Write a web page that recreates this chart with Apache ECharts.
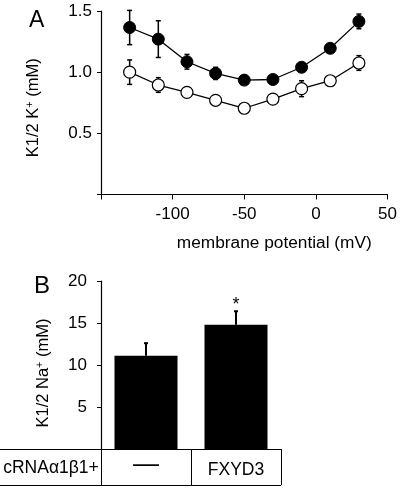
<!DOCTYPE html>
<html><head><meta charset="utf-8">
<script src="https://cdn.jsdelivr.net/npm/echarts@6/dist/echarts.min.js"></script>
<style>html,body{margin:0;padding:0;background:#fff}#c{width:400px;height:489px}</style>
</head><body><div id="c"></div>
<script>
// Panel A data
const voltages = [-130, -110, -90, -70, -50, -30, -10, 10, 30];
const filledMean = [1.365, 1.27, 1.085, 0.99, 0.935, 0.94, 1.04, 1.195, 1.415];
const filledErr  = [0.14, 0.15, 0.06, 0.05, 0.02, 0.02, 0.02, 0.02, 0.06];
const openMean = [1.0, 0.895, 0.835, 0.77, 0.705, 0.78, 0.865, 0.93, 1.075];
const openErr  = [0.10, 0.06, 0.02, 0.02, 0.02, 0.02, 0.065, 0.02, 0.06];
const xTicksA = [-150, -100, -50, 0, 50];
const yTicksA = [0, 0.5, 1.0, 1.5];
// Panel B data
const categoriesB = ['—', 'FXYD3'];
const meansB = [11.1, 14.8];
const errB = [1.5, 1.6];
const sigB = ['', '*'];
const yTicksB = [0, 5, 10, 15, 20];
const rowHeader = 'cRNAα1β1+';

const FONT = 'Liberation Sans';
const chart = echarts.init(document.getElementById('c'), null, {renderer: 'canvas'});

function errRender(params, api) {
  const x = api.value(0), y = api.value(1), e = api.value(2);
  const hi = api.coord([x, y + e]), lo = api.coord([x, y - e]);
  const w = 2.5, st = {stroke: '#000', lineWidth: 1.5};
  return {type: 'group', children: [
    {type: 'line', shape: {x1: hi[0], y1: hi[1], x2: lo[0], y2: lo[1]}, style: st},
    {type: 'line', shape: {x1: hi[0] - w, y1: hi[1], x2: hi[0] + w, y2: hi[1]}, style: st},
    {type: 'line', shape: {x1: lo[0] - w, y1: lo[1], x2: lo[0] + w, y2: lo[1]}, style: st}
  ]};
}
function errRenderB(params, api) {
  const x = api.value(0), y = api.value(1), e = api.value(2);
  const base = api.coord([x, y]), hi = api.coord([x, y + e]);
  const w = 2, st = {stroke: '#000', lineWidth: 2};
  const label = sigB[params.dataIndex];
  const ch = [
    {type: 'line', shape: {x1: base[0], y1: base[1], x2: hi[0], y2: hi[1]}, style: st},
    {type: 'line', shape: {x1: hi[0] - w, y1: hi[1], x2: hi[0] + w, y2: hi[1]}, style: st}
  ];
  if (label) ch.push({type: 'text', x: hi[0], y: hi[1] + 3,
    style: {text: label, fontFamily: FONT, fontSize: 18, fill: '#000', align: 'center', verticalAlign: 'bottom'}});
  return {type: 'group', children: ch};
}

const axisStyle = {lineStyle: {color: '#000', width: 1.2}};
const tickLabel = {color: '#000', fontFamily: FONT, fontSize: 17};
const supRich = {sup: {fontSize: 11, fontFamily: FONT, color: '#000', verticalAlign: 'top', padding: [0, 0, 8, 0]}};

chart.setOption({
  animation: false,
  backgroundColor: '#fff',
  grid: [
    {left: 101, right: 9, top: 11, bottom: 294.5},
    {left: 101, right: 119, top: 281, bottom: 40}
  ],
  xAxis: [
    {gridIndex: 0, type: 'value', min: xTicksA[0], max: xTicksA[xTicksA.length - 1], interval: 50,
     axisLine: axisStyle, axisTick: {show: true, length: 5, lineStyle: {color: '#000'}},
     splitLine: {show: false},
     axisLabel: Object.assign({margin: 11, formatter: v => v === xTicksA[0] ? '' : String(v)}, tickLabel),
     name: 'membrane potential (mV)', nameLocation: 'middle', nameGap: 40,
     nameTextStyle: {color: '#000', fontFamily: FONT, fontSize: 17.3, padding: [0, 0, 0, 60]}},
    {gridIndex: 1, type: 'category', data: categoriesB,
     axisLine: {lineStyle: {color: '#000', width: 1}},
     axisTick: {show: true, interval: 0, length: 36, alignWithLabel: false, lineStyle: {color: '#000', width: 1}},
     axisLabel: {interval: 0, margin: 12, color: '#000', fontFamily: FONT, fontSize: 17.5,
       formatter: v => v === '—' ? '{dash|—}' : v,
       rich: {dash: {fontSize: 26, lineHeight: 8, fontFamily: FONT, color: '#000'}}}}
  ],
  yAxis: [
    {gridIndex: 0, type: 'value', min: yTicksA[0], max: yTicksA[yTicksA.length - 1], interval: 0.5,
     axisLine: {show: true, onZero: false, lineStyle: {color: '#000', width: 1.2}},
     axisTick: {show: true, length: 4, lineStyle: {color: '#000'}},
     splitLine: {show: false},
     axisLabel: Object.assign({margin: 9, formatter: v => v === 0 ? '' : v.toFixed(1)}, tickLabel),
     name: 'K1/2 K{sup|+} (mM)', nameLocation: 'middle', nameGap: 58, nameRotate: 90,
     nameTextStyle: {color: '#000', fontFamily: FONT, fontSize: 16.5, padding: [0, 10, 0, 0], rich: supRich}},
    {gridIndex: 1, type: 'value', min: yTicksB[0], max: yTicksB[yTicksB.length - 1], interval: 5,
     axisLine: {show: true, onZero: false, lineStyle: {color: '#000', width: 1.2}},
     axisTick: {show: true, length: 4, lineStyle: {color: '#000'}},
     splitLine: {show: false},
     axisLabel: Object.assign({margin: 14, formatter: v => v === 0 ? '' : String(v)}, tickLabel),
     name: 'K1/2 Na{sup|+} (mM)', nameLocation: 'middle', nameGap: 48, nameRotate: 90,
     nameTextStyle: {color: '#000', fontFamily: FONT, fontSize: 16.5, padding: [0, 16, 0, 0], rich: supRich}}
  ],
  series: [
    {type: 'custom', xAxisIndex: 0, yAxisIndex: 0, z: 1, renderItem: errRender,
     data: voltages.map((v, i) => [v, filledMean[i], filledErr[i]])},
    {type: 'custom', xAxisIndex: 0, yAxisIndex: 0, z: 1, renderItem: errRender,
     data: voltages.map((v, i) => [v, openMean[i], openErr[i]])},
    {type: 'line', xAxisIndex: 0, yAxisIndex: 0, z: 3, symbol: 'circle', symbolSize: 12,
     lineStyle: {color: '#000', width: 1.3}, itemStyle: {color: '#000', borderColor: '#000', borderWidth: 1},
     data: voltages.map((v, i) => [v, filledMean[i]])},
    {type: 'line', xAxisIndex: 0, yAxisIndex: 0, z: 3, symbol: 'circle', symbolSize: 12,
     lineStyle: {color: '#000', width: 1.3}, itemStyle: {color: '#fff', borderColor: '#000', borderWidth: 1.2},
     data: voltages.map((v, i) => [v, openMean[i]])},
    {type: 'bar', xAxisIndex: 1, yAxisIndex: 1, barWidth: '70%', itemStyle: {color: '#000'}, data: meansB},
    {type: 'custom', xAxisIndex: 1, yAxisIndex: 1, z: 3, renderItem: errRenderB,
     data: categoriesB.map((c, i) => [i, meansB[i], errB[i]])}
  ],
  graphic: [
    {type: 'text', left: 29, top: 9, style: {text: 'A', fontFamily: FONT, fontSize: 23, fill: '#000'}},
    {type: 'text', left: 34, top: 274, style: {text: 'B', fontFamily: FONT, fontSize: 24, fill: '#000'}},
    {type: 'line', shape: {x1: 0, y1: 449.5, x2: 101, y2: 449.5}, style: {stroke: '#000', lineWidth: 1}},
    {type: 'line', shape: {x1: 0, y1: 485.5, x2: 281, y2: 485.5}, style: {stroke: '#000', lineWidth: 1}},
    {type: 'text', x: 51, y: 468, style: {text: rowHeader, fontFamily: FONT, fontSize: 17.5, fill: '#000', align: 'center', verticalAlign: 'middle'}}
  ]
});
</script></body></html>
